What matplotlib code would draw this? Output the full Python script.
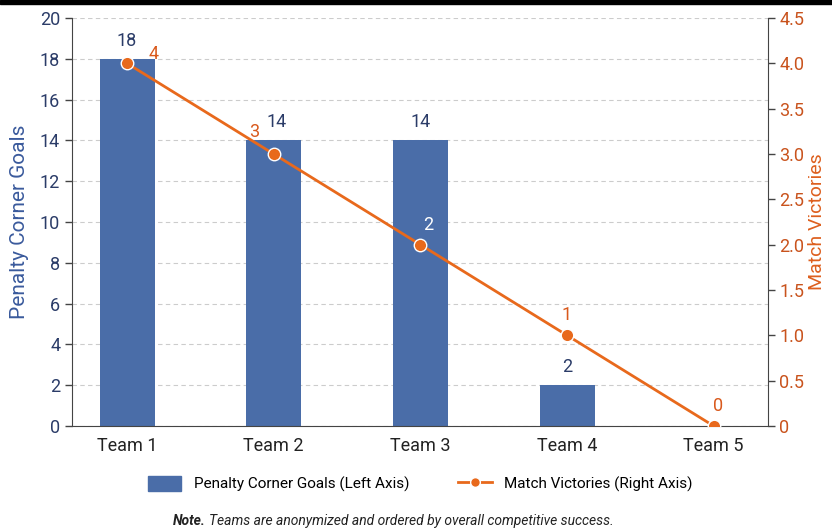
import matplotlib
matplotlib.use("Agg")
import matplotlib.pyplot as plt
from matplotlib import font_manager
from matplotlib.patches import Rectangle
from matplotlib.lines import Line2D

# narrow sans if available, else Roboto
names = {f.name for f in font_manager.fontManager.ttflist}
base = "Liberation Sans Narrow" if "Liberation Sans Narrow" in names else "Roboto"
plt.rcParams["font.family"] = [base, "DejaVu Sans"]

teams = ["Team 1", "Team 2", "Team 3", "Team 4", "Team 5"]
corner_goals = [18, 14, 14, 2, 0]
victories = [4, 3, 2, 1, 0]

bar_color = "#4a6da8"
line_color = "#e8691c"
navy = "#2b3c68"
rust = "#c9531d"

fig = plt.figure(figsize=(8.32, 5.30), dpi=100)
ax = fig.add_axes([72 / 832, 1 - 426 / 530, 696 / 832, 408 / 530])
x = list(range(len(teams)))

ax.bar([i for i, g in zip(x, corner_goals) if g > 0],
       [g for g in corner_goals if g > 0],
       width=0.375, color=bar_color, zorder=2)
for i, g in zip(x, corner_goals):
    if g > 0:
        ax.text(i + (0.02 if i == 1 else 0), g + 0.45, str(g), ha="center",
                va="bottom", fontsize=13, color=navy)

ax.set_ylim(0, 20)
ax.set_xlim(-0.375, 4.37)
ax.set_yticks(range(0, 21, 2))
ax.set_xticks(x)
ax.set_xticklabels(teams, fontsize=13, color="#222222")
ax.tick_params(axis="y", labelsize=13, labelcolor=navy, color="#444444",
               length=5, width=1)
ax.tick_params(axis="x", length=0, pad=8)
ax.grid(axis="y", linestyle=(0, (4, 3)), color="#cccccc", linewidth=0.8, zorder=0)
ax.set_axisbelow(True)
for s in ("top", "right"):
    ax.spines[s].set_visible(False)
ax.spines["left"].set_color("#444444")
ax.spines["bottom"].set_color("#444444")
ax.set_ylabel("Penalty Corner Goals", fontsize=15, color="#3a5a9c", labelpad=8)

ax2 = ax.twinx()
ax2.plot(x, victories, color=line_color, linewidth=2, marker="o",
         markersize=9, markeredgecolor="white", markeredgewidth=1, zorder=3)
ax2.set_ylim(0, 4.5)
rticks = [0, 0.5, 1, 1.5, 2, 2.5, 3, 3.5, 4, 4.5]
ax2.set_yticks(rticks)
ax2.set_yticklabels(["0" if t == 0 else f"{t:.1f}" for t in rticks])
ax2.tick_params(axis="y", labelsize=13, labelcolor=rust, color="#444444",
                length=5, width=1, pad=3)
for s in ("top", "left", "bottom"):
    ax2.spines[s].set_visible(False)
ax2.spines["right"].set_color("#444444")
ax2.set_ylabel("Match Victories", fontsize=14, color="#dd5f1e", labelpad=3)

# value labels for the line
offsets = [(0.18, 0.0), (-0.13, 0.14), (0.05, 0.12), (0.0, 0.12), (0.03, 0.12)]
for i, v, (dx, dy) in zip(x, victories, offsets):
    ax2.text(i + dx, v + dy, str(v), ha="center", va="bottom", fontsize=13,
             color="#d9591c" if i != 2 else "white")

ax2.set_zorder(ax.get_zorder() + 1)
ax2.patch.set_visible(False)

# legend below the plot
handles = [Rectangle((0, 0), 1, 1, color=bar_color),
           Line2D([], [], color=line_color, linewidth=2, marker="o",
                  markersize=7, markeredgecolor="white")]
fig.legend(handles, ["Penalty Corner Goals (Left Axis)", "Match Victories (Right Axis)"],
           loc="center", bbox_to_anchor=(420 / 832, 1 - 484 / 530), ncol=2,
           frameon=False, fontsize=11, handlelength=2.2, handleheight=1.1,
           columnspacing=3.2, handletextpad=0.8)

note_x = 206 / 832
fig.text(note_x, 1 - 521 / 530, "Note.", fontsize=10, ha="right",
         va="center", color="#222222", fontweight="bold", style="italic")
fig.text(note_x + 0.004, 1 - 521 / 530,
         "Teams are anonymized and ordered by overall competitive success.",
         fontsize=10, style="italic", ha="left", va="center", color="#222222")

# dark strip along the top edge
fig.patches.append(Rectangle((0, 1 - 4 / 530), 1, 4 / 530, transform=fig.transFigure,
                             color="black", zorder=10))

fig.savefig("out.png", dpi=100)
